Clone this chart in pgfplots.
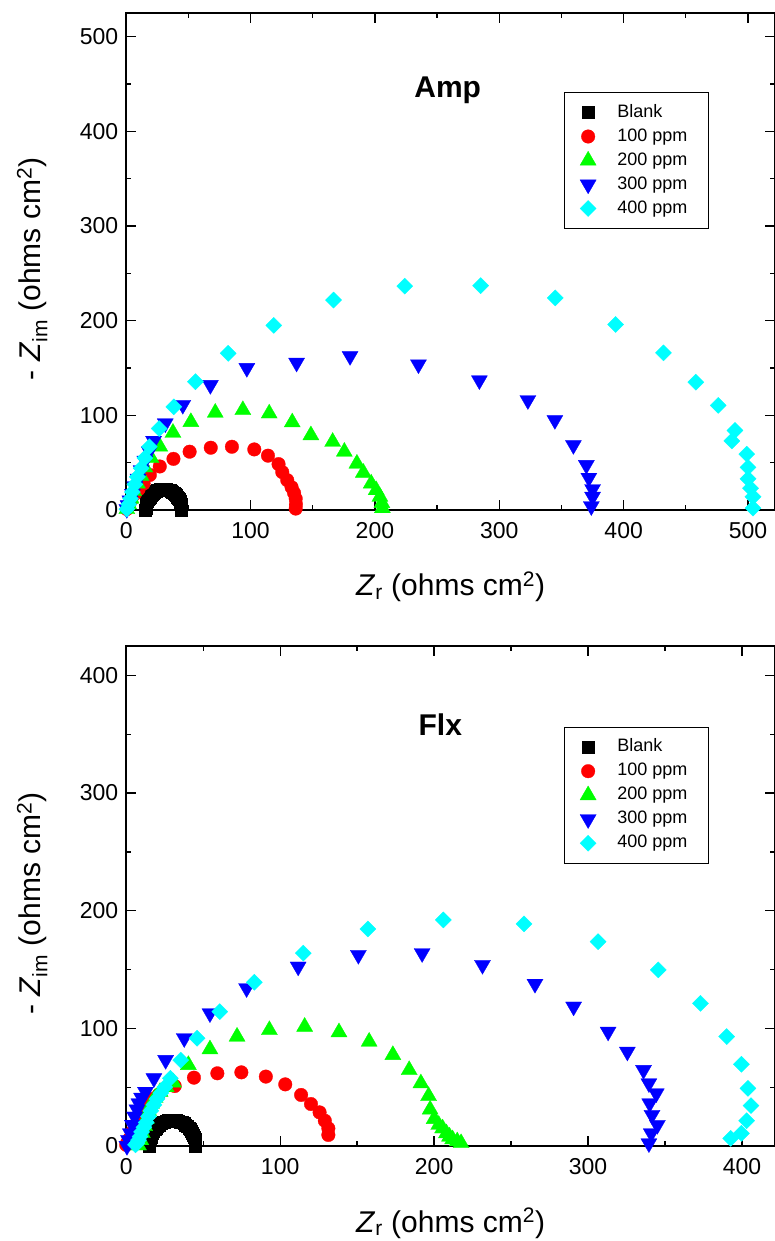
\documentclass[border=0pt]{standalone}
\usepackage{fontspec}
\setmainfont{Liberation Sans}
\usepackage{pgfplots}
\pgfplotsset{compat=1.18}
\definecolor{cred}{RGB}{255,0,0}
\definecolor{cgrn}{RGB}{0,255,0}
\definecolor{cblu}{RGB}{0,0,255}
\definecolor{ccyn}{RGB}{0,255,255}
\pgfplotsset{
  eis/.style={
    scale only axis, width=648.8pt, xmin=0, ymin=0, clip=false,
    axis line style={line width=1.8pt},
    tick style={line width=1.3pt, black},
    tick align=inside, major tick length=10pt, minor tick length=5pt,
    minor x tick num=1, minor y tick num=1,
    /pgf/number format/assume math mode=true,
    tick label style={font=\fontsize{23}{23}\selectfont},
    xticklabel style={yshift=-9pt},
    yticklabel style={xshift=-4.5pt},
    label style={font=\fontsize{30}{30}\selectfont},
    xlabel={\textit{Z}\textsubscript{r} (ohms cm\textsuperscript{2})},
    ylabel={- \textit{Z}\textsubscript{im} (ohms cm\textsuperscript{2})},
    xlabel style={at={(axis description cs:0.5,-0.172)}, anchor=base},
    ylabel style={at={(axis description cs:-0.145,0.485)}, anchor=center},
    legend cell align=left,
    legend style={draw=black, line width=1pt, font=\fontsize{18}{18}\selectfont,
      inner xsep=11pt, inner ysep=8pt, row sep=0pt,
      nodes={inner xsep=5.7pt, inner ysep=3.5pt, text height=13pt, text depth=4pt}},
    legend image code/.code={\path (0pt,0pt) (35pt,0pt); \draw[##1] plot coordinates {(12pt,0pt)};},
  },
  blk/.style={only marks, mark=square*, color=black, mark size=6pt, mark options={line width=0.3pt}},
  red/.style={only marks, mark=*, color=cred, mark size=6.8pt, mark options={line width=0.3pt}},
  grn/.style={only marks, mark=triangle*, color=cgrn, mark size=9.3pt, mark options={line width=0.3pt}},
  blu/.style={only marks, mark=triangle*, color=cblu, mark size=9.3pt, mark options={rotate=180, line width=0.3pt}},
  cyn/.style={only marks, mark=square*, color=ccyn, mark size=5.7pt, mark options={rotate=45, line width=0.3pt}},
}
\begin{document}
\begin{tikzpicture}
\path[use as bounding box] (0pt,0pt) rectangle (775pt,-1241pt);
% ---------------- Amp ----------------
\begin{axis}[eis, at={(126.2pt,-510pt)}, anchor=south west, height=497pt,
  xmax=521.7, ymax=525, xtick={0,100,...,500}, ytick={0,100,...,500},
  legend style={at={(rel axis cs:0.675,0.841)}, anchor=north west}]
\addplot[blk] coordinates {(15.6,0) (15.7,1.9) (15.8,3.8) (16.0,5.7) (16.4,7.5) (16.9,9.3) (17.4,11) (18.1,12.6) (18.9,14.1) (19.7,15.6) (20.7,16.9) (21.7,18.0) (22.8,19.1) (23.9,19.9) (25.0,20.7) (26.2,21.3) (27.5,21.7) (28.7,21.9) (30,22) (31.3,21.9) (32.5,21.7) (33.8,21.3) (35.0,20.7) (36.1,19.9) (37.3,19.1) (38.3,18.0) (39.3,16.9) (40.3,15.6) (41.1,14.1) (41.9,12.6) (42.6,11) (43.1,9.3) (43.6,7.5) (44.0,5.7) (44.3,3.8) (44.4,1.9) (44.5,0)};
\addlegendentry{\makebox[74pt][l]{Blank}}
\addplot[red] coordinates {(0.5,1) (2,5) (4,10) (7,17) (10,22) (14,28) (19,37) (27,46) (38,54) (51,61.6) (68,65.8) (85,66.8) (103,64) (114,57.4) (122.5,48.5) (125.5,40) (129.5,31.5) (133,24) (135,18) (136.3,12) (136.5,6) (136.3,1.5)};
\addlegendentry{\makebox[74pt][l]{100 ppm}}
\addplot[grn] coordinates {(0.5,1) (2,6) (4,12) (6,20) (9,28) (12,36) (15,45) (20,55) (27,67) (37.6,81.6) (52,93) (71.6,102.8) (93.8,105.6) (115,102) (133.5,92.6) (148.5,79) (166,72) (175.4,61.6) (185.5,49) (190.7,39.4) (197,28) (201,21) (204,14) (205.6,7.4) (206,2)};
\addlegendentry{\makebox[74pt][l]{200 ppm}}
\addplot[blu] coordinates {(0.5,1) (1.5,5) (3,10) (5,17) (7,25) (9.5,33) (12,42) (15,52) (18.5,62) (22,73) (31.4,91.5) (45.5,111) (67.7,132) (97,150) (137,155.6) (180,162.6) (235,153.8) (284,137) (323,116) (344.7,95) (359.6,68.6) (370,47.5) (372,34) (375,22) (375,14) (374,4)};
\addlegendentry{\makebox[74pt][l]{300 ppm}}
\addplot[cyn] coordinates {(0.5,1) (2,6) (3.5,12) (5,19) (7,27) (9,35) (12,44) (15,55) (18.6,66.8) (26.5,86) (38.3,109) (55.7,135.5) (82,165.5) (118.7,195) (166.7,221.8) (224,236.5) (285,237) (345,224) (393.5,196) (432,166) (458,135) (476,110.5) (489.5,84) (487,73) (499,59) (500,45) (500,33) (502,23) (504,14) (504,2)};
\addlegendentry{\makebox[74pt][l]{400 ppm}}
\node[font=\fontsize{30}{30}\selectfont\bfseries] at (axis cs:258.5,443) {Amp};
\end{axis}
% ---------------- Flx ----------------
\begin{axis}[eis, at={(126.2pt,-1146pt)}, anchor=south west, height=500pt,
  xmax=421.4, ymax=425, xtick={0,100,...,400}, ytick={0,100,...,400},
  legend style={at={(rel axis cs:0.675,0.8386)}, anchor=north west}]
\addplot[blk] coordinates {(15,0) (15.1,1.9) (15.2,3.8) (15.5,5.7) (15.9,7.5) (16.4,9.3) (17.0,11) (17.7,12.6) (18.5,14.1) (19.4,15.6) (20.4,16.9) (21.4,18.0) (22.5,19.1) (23.7,19.9) (24.9,20.7) (26.1,21.3) (27.4,21.7) (28.7,21.9) (30,22) (31.3,21.9) (32.6,21.7) (33.9,21.3) (35.1,20.7) (36.3,19.9) (37.5,19.1) (38.6,18.0) (39.6,16.9) (40.6,15.6) (41.5,14.1) (42.3,12.6) (43.0,11) (43.6,9.3) (44.1,7.5) (44.5,5.7) (44.8,3.8) (44.9,1.9) (45,0)};
\addlegendentry{\makebox[74pt][l]{Blank}}
\addplot[red] coordinates {(0,1) (0.8,3) (2,6) (4,12) (6,18) (9,25) (13,33) (17,40) (21,43.4) (31.5,51) (44,58.1) (59.2,61.8) (74.8,62.6) (90.7,59) (103.3,52.4) (113.6,43.4) (120,35.7) (125.6,28.6) (129,21.5) (131.3,15) (131.3,9.4)};
\addlegendentry{\makebox[74pt][l]{100 ppm}}
\addplot[grn] coordinates {(8,0.5) (9.5,5) (10.5,11) (12,17) (13,23) (14.5,30) (16.5,36) (18.8,41) (22,46) (26,50) (30.7,54) (40.4,68.9) (54.4,82.2) (72,93) (93,98.6) (115.9,101.4) (138.2,96.7) (157.8,88.7) (173.2,77.4) (183.8,64.6) (191.4,53.3) (196.4,42.5) (197.4,31) (200,23) (203,18) (205.5,15) (208,10.8) (210,8) (212,5.7) (215,4) (217.5,2.5)};
\addlegendentry{\makebox[74pt][l]{200 ppm}}
\addplot[blu] coordinates {(0.5,0) (1.5,5) (2.7,10.8) (4,18) (5.5,25) (7,31) (8.2,36.3) (10,41) (12.5,46) (18,57.6) (25.6,73.1) (37.7,91.6) (54.4,112.8) (78.2,134.1) (111.7,152.5) (150.8,162.4) (192.2,163.9) (231.4,153.9) (265.5,137.8) (290.6,118.5) (313,97.2) (325.5,80.2) (336,64.6) (339.5,53.3) (344.3,44.8) (340,36.3) (341.5,26.4) (345,17.9) (341,10.8) (339.5,2.3)};
\addlegendentry{\makebox[74pt][l]{300 ppm}}
\addplot[cyn] coordinates {(6,1) (7,2.5) (8,5) (9,8) (10,12) (11.5,16) (13,20) (14.5,25) (16,30) (18,35) (20,40) (22.5,45) (25,50) (28.7,57.6) (35.4,73) (46,91.6) (60.8,114.2) (83.2,139.2) (115,163.9) (157,184.5) (206,192.2) (258.4,188.8) (306.5,173.7) (345.6,149.7) (373,121.3) (390,93) (399.6,69.5) (403.8,49) (405.8,34.3) (403,21.5) (399.6,10.8) (392.6,6.5)};
\addlegendentry{\makebox[74pt][l]{400 ppm}}
\node[font=\fontsize{30}{30}\selectfont\bfseries] at (axis cs:204,358) {Flx};
\end{axis}
\end{tikzpicture}
\end{document}
